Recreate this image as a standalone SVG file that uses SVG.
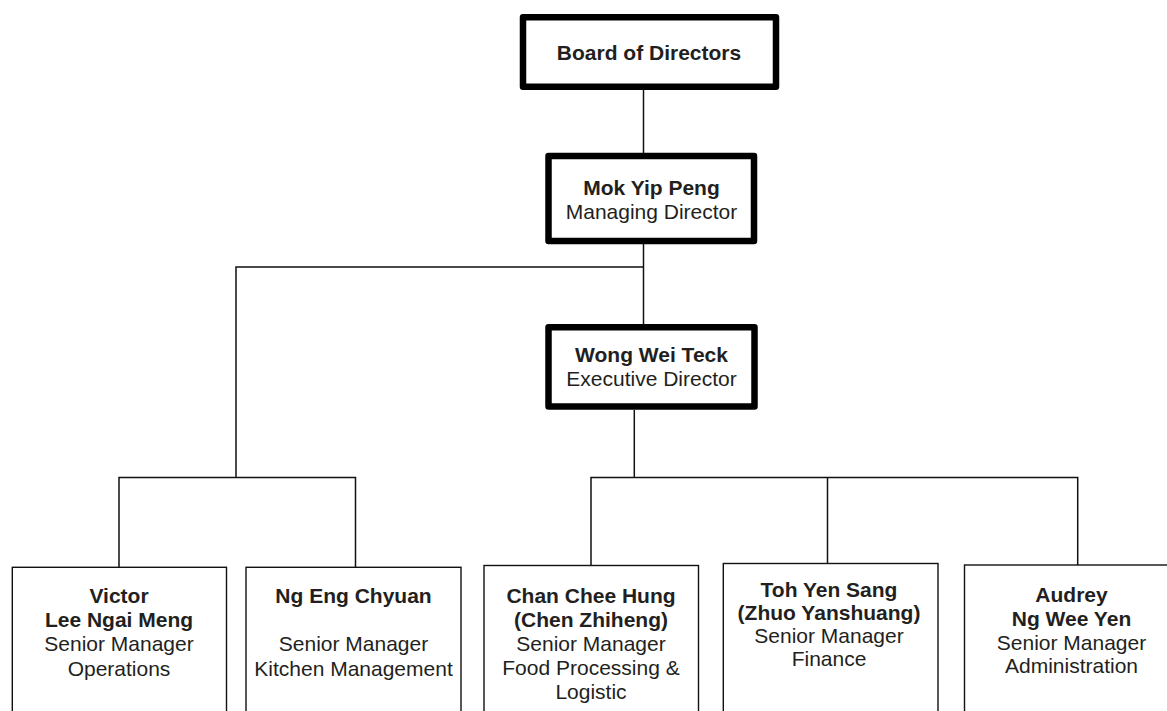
<svg xmlns="http://www.w3.org/2000/svg" width="1167" height="711" viewBox="0 0 1167 711">
  <style>
    .thick { fill: #fff; stroke: #000; stroke-width: 6.5; stroke-linejoin: round; }
    .thin { fill: #fff; stroke: #111; stroke-width: 1.4; }
    .conn { fill: none; stroke: #111; stroke-width: 1.5; }
    text { font-family: "Liberation Sans", Arial, sans-serif; font-size: 21px; fill: #231f20; text-anchor: middle; }
    .b { font-weight: bold; }
  </style>
  <rect width="1167" height="711" fill="#fff"/>
  <g id="connectors">
    <line class="conn" x1="643.5" y1="89" x2="643.5" y2="153"/>
    <line class="conn" x1="643.5" y1="244" x2="643.5" y2="324"/>
    <polyline class="conn" points="643.5,267 236,267 236,477.5"/>
    <polyline class="conn" points="119,567 119,477.5 355.5,477.5 355.5,567"/>
    <line class="conn" x1="634.3" y1="410" x2="634.3" y2="477.5"/>
    <polyline class="conn" points="591,565 591,477.5 1077.7,477.5 1077.7,565"/>
    <line class="conn" x1="827.5" y1="477.5" x2="827.5" y2="563.5"/>
  </g>
  <g id="board">
    <rect class="thick" x="523" y="17.3" width="253" height="69.4"/>
    <text class="b" x="649" y="60">Board of Directors</text>
  </g>
  <g id="mok">
    <rect class="thick" x="548.5" y="156" width="205.5" height="85"/>
    <text class="b" x="651.5" y="195">Mok Yip Peng</text>
    <text x="651.5" y="219">Managing Director</text>
  </g>
  <g id="wong">
    <rect class="thick" x="548.5" y="327.3" width="206" height="79.2"/>
    <text class="b" x="651.5" y="362">Wong Wei Teck</text>
    <text x="651.5" y="386">Executive Director</text>
  </g>
  <g id="victor">
    <rect class="thin" x="12.3" y="567.3" width="214.2" height="160"/>
    <text class="b" x="119" y="602.5">Victor</text>
    <text class="b" x="119" y="627">Lee Ngai Meng</text>
    <text x="119" y="651">Senior Manager</text>
    <text x="119" y="675.5">Operations</text>
  </g>
  <g id="ng">
    <rect class="thin" x="246" y="567.3" width="215" height="160"/>
    <text class="b" x="353.5" y="602.5">Ng Eng Chyuan</text>
    <text x="353.5" y="651">Senior Manager</text>
    <text x="353.5" y="675.5">Kitchen Management</text>
  </g>
  <g id="chan">
    <rect class="thin" x="484" y="565.5" width="214.5" height="160"/>
    <text class="b" x="591" y="603">Chan Chee Hung</text>
    <text class="b" x="591" y="627">(Chen Zhiheng)</text>
    <text x="591" y="650.5">Senior Manager</text>
    <text x="591" y="675">Food Processing &amp;</text>
    <text x="591" y="698.5">Logistic</text>
  </g>
  <g id="toh">
    <rect class="thin" x="723.3" y="563.5" width="214.7" height="160"/>
    <text class="b" x="829" y="597">Toh Yen Sang</text>
    <text class="b" x="829" y="620">(Zhuo Yanshuang)</text>
    <text x="829" y="643">Senior Manager</text>
    <text x="829" y="666">Finance</text>
  </g>
  <g id="audrey">
    <rect class="thin" x="964.5" y="565" width="214.5" height="160"/>
    <text class="b" x="1071.5" y="602">Audrey</text>
    <text class="b" x="1071.5" y="625.5">Ng Wee Yen</text>
    <text x="1071.5" y="649.5">Senior Manager</text>
    <text x="1071.5" y="673">Administration</text>
  </g>
</svg>
